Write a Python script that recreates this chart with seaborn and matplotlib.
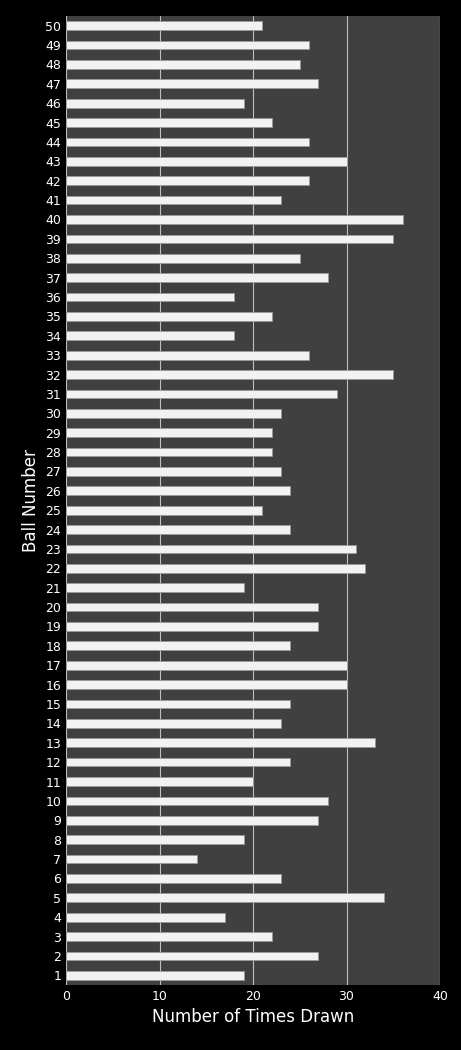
import matplotlib
matplotlib.use("Agg")
import matplotlib.pyplot as plt
import seaborn as sns
import pandas as pd

balls = list(range(1, 51))
counts = [19,27,22,17,34,23,14,19,27,28,20,24,33,23,24,30,30,24,27,27,
          19,32,31,24,21,24,23,22,22,23,29,35,26,18,22,18,28,25,35,36,
          23,26,30,26,22,19,27,25,26,21]
df = pd.DataFrame({"ball": [str(b) for b in balls], "count": counts})
order = [str(b) for b in reversed(balls)]

sns.set_style("dark")
fig = plt.figure(figsize=(4.61, 10.5), dpi=100, facecolor="black")
ax = fig.add_axes([66/461, 1-985/1050, 374/461, 969/1050])
ax.set_facecolor("#404040")
sns.barplot(data=df, x="count", y="ball", order=order, color="#f2f2f2",
            width=0.45, edgecolor="#9a9a9a", linewidth=0.6, ax=ax, zorder=3)
ax.set_xlim(0, 40)
ax.set_xticks([0, 10, 20, 30, 40])
ax.grid(axis="x", color="#bfbfbf", linewidth=0.8, zorder=0)
ax.grid(axis="y", visible=False)
for s in ax.spines.values():
    s.set_visible(False)
ax.tick_params(colors="white", labelsize=9, length=0)
ax.set_xlabel("Number of Times Drawn", color="white", fontsize=12)
ax.set_ylabel("Ball Number", color="white", fontsize=12)
fig.savefig("out.png", dpi=100, facecolor="black")
